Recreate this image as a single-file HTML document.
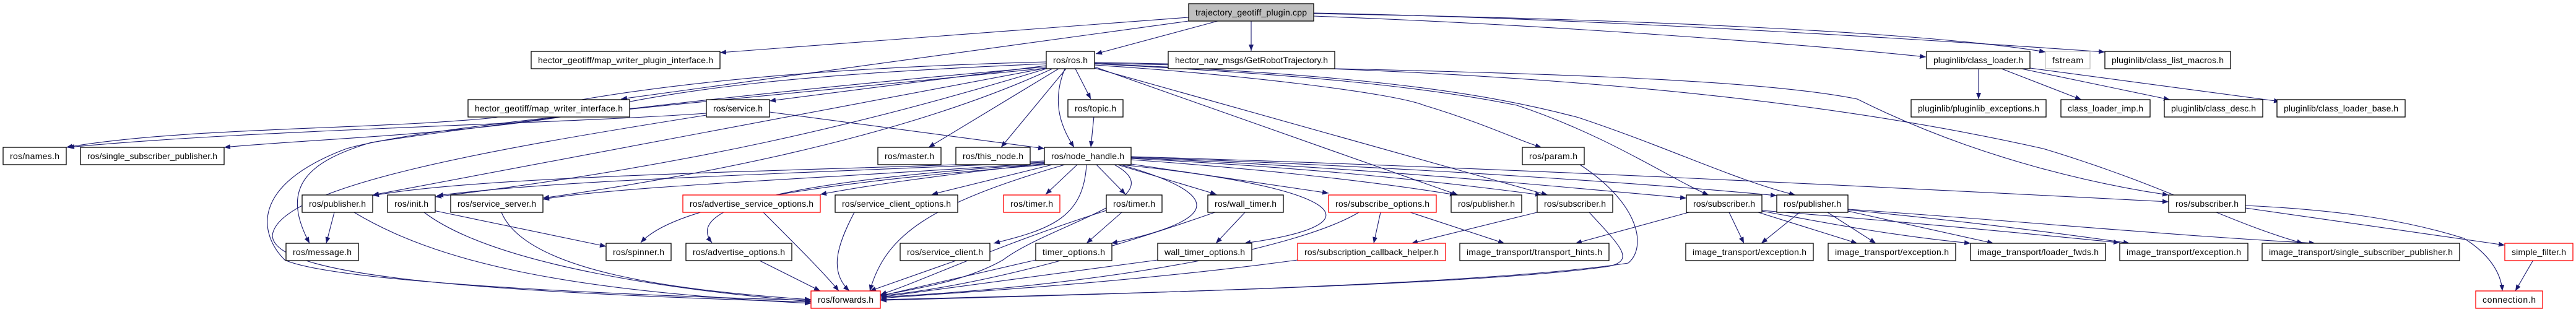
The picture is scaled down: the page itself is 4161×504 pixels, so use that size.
<!DOCTYPE html>
<html><head><meta charset="utf-8"><style>
html,body{margin:0;padding:0;background:#fff;}
svg{display:block;}
text{font-family:"Liberation Sans",sans-serif;font-size:14px;fill:#000;}
.b{fill:#fff;stroke:#000;stroke-width:1.3;}
.r{fill:#fff;stroke:#ff0000;stroke-width:1.3;}
.e{fill:none;stroke:#191970;stroke-width:1.1;marker-end:url(#a);}
</style></head><body>
<svg width="4161" height="504" viewBox="0 0 4161 504" xmlns="http://www.w3.org/2000/svg">
<defs><marker id="a" markerWidth="10" markerHeight="8" refX="10" refY="4" orient="auto" markerUnits="userSpaceOnUse"><polygon points="0,0 10,4 0,8" fill="#191970"/></marker></defs>
<g>
<path class="e" d="M1920,28 L1163,85"/>
<path class="e" d="M1920,34 L1003,160"/>
<path class="e" d="M1967,34 L1770,87"/>
<path class="e" d="M2021,34 L2021,82"/>
<path class="e" d="M2122,26 C2500,40 2900,70 3111,92"/>
<path class="e" d="M2122,22 C2600,30 3100,50 3304,84"/>
<path class="e" d="M2122,21 C2600,30 3200,70 3400,84"/>
<path class="e" d="M1690,100 C1300,110 1000,140 800,190 C600,210 300,205 107,238"/>
<path class="e" d="M1690,103 C1300,120 1100,140 900,190 C700,220 500,225 362,238"/>
<path class="e" d="M1690,106 L1243,163"/>
<path class="e" d="M1690,108 C1200,150 800,200 600,230 C500,260 450,300 500,393"/>
<path class="e" d="M1690,110 C1200,160 700,200 560,240 C400,300 420,380 460,420 C550,460 1100,480 1310,485"/>
<path class="e" d="M1690,110 L602,315"/>
<path class="e" d="M1690,111 C1400,200 1100,270 703,318"/>
<path class="e" d="M1700,111 C1550,180 1300,260 877,320"/>
<path class="e" d="M1710,111 L1500,238"/>
<path class="e" d="M1722,111 L1617,238"/>
<path class="e" d="M1720,111 C1700,160 1710,200 1735,238"/>
<path class="e" d="M1737,111 L1762,160"/>
<path class="e" d="M1768,105 C2000,120 2250,150 2300,170 C2400,200 2460,230 2490,238"/>
<path class="e" d="M1768,108 L2355,315"/>
<path class="e" d="M1768,110 L2500,315"/>
<path class="e" d="M1768,103 C2100,120 2300,140 2450,170 C2600,220 2700,290 2760,315"/>
<path class="e" d="M1768,103 C2200,120 2400,150 2550,190 C2700,240 2800,290 2900,315"/>
<path class="e" d="M1768,102 C2300,115 2800,120 3000,160 C3200,260 3400,300 3503,315"/>
<path class="e" d="M1768,101 C2400,110 2900,150 3300,240 C3500,300 3600,360 3720,393"/>
<path class="e" d="M1767,188 L1762,238"/>
<path class="e" d="M1243,181 L1687,240"/>
<path class="e" d="M1141,183 C900,200 400,210 110,238"/>
<path class="e" d="M1141,186 C800,240 450,300 440,380 C440,440 700,470 1310,488"/>
<path class="e" d="M1687,260 C1400,275 800,280 602,316"/>
<path class="e" d="M1687,262 C1300,280 900,290 706,316"/>
<path class="e" d="M1687,263 C1400,285 1000,300 877,322"/>
<path class="e" d="M1690,264 C1500,285 1400,300 1325,314"/>
<path class="e" d="M1700,266 L1505,314"/>
<path class="e" d="M1740,266 L1689,314"/>
<path class="e" d="M1771,266 L1818,314"/>
<path class="e" d="M1805,266 L1965,314"/>
<path class="e" d="M1827,265 L2146,312"/>
<path class="e" d="M1827,258 C2000,270 2200,290 2352,315"/>
<path class="e" d="M1827,256 C2100,270 2300,290 2490,315"/>
<path class="e" d="M1827,255 C2200,270 2500,300 2724,320"/>
<path class="e" d="M1827,254 C2300,270 2700,300 2870,316"/>
<path class="e" d="M1827,253 C2400,270 3000,300 3503,326"/>
<path class="e" d="M1690,266 C1400,290 1100,320 1035,392"/>
<path class="e" d="M1687,265 C1300,290 1100,330 1150,392"/>
<path class="e" d="M1755,266 C1750,350 1700,370 1605,393"/>
<path class="e" d="M1810,266 C2000,320 1950,360 1795,393"/>
<path class="e" d="M1810,266 C2150,300 2250,360 2010,393"/>
<path class="e" d="M1720,266 C1500,330 1430,380 1405,470"/>
<path class="e" d="M1800,266 C1900,320 1700,360 1620,420 C1550,460 1450,470 1422,478"/>
<path class="e" d="M540,343 L527,393"/>
<path class="e" d="M572,343 C700,420 900,470 1310,490"/>
<path class="e" d="M685,343 C800,430 1100,470 1310,487"/>
<path class="e" d="M700,340 L979,398"/>
<path class="e" d="M810,343 C850,440 1100,470 1310,484"/>
<path class="e" d="M1233,343 C1290,400 1330,440 1355,470"/>
<path class="e" d="M1380,343 C1350,400 1340,440 1372,470"/>
<path class="e" d="M1225,420 L1325,470"/>
<path class="e" d="M1547,420 L1405,470"/>
<path class="e" d="M1812,343 L1755,393"/>
<path class="e" d="M1787,340 C1600,400 1500,450 1422,476"/>
<path class="e" d="M2011,343 L1964,393"/>
<path class="e" d="M1971,340 C1800,400 1600,460 1422,478"/>
<path class="e" d="M1673,420 L1422,478"/>
<path class="e" d="M1870,420 L1422,480"/>
<path class="e" d="M2096,420 C1800,460 1500,475 1422,482"/>
<path class="e" d="M2230,343 L2219,393"/>
<path class="e" d="M2195,343 C2100,400 1800,460 1422,480"/>
<path class="e" d="M2278,343 L2430,393"/>
<path class="e" d="M2483,343 L2280,393"/>
<path class="e" d="M2567,343 C2620,400 2640,420 2600,430 C2400,460 1800,475 1422,484"/>
<path class="e" d="M2552,266 C2650,330 2660,400 2630,425 C2400,460 1800,475 1422,485"/>
<path class="e" d="M2728,343 L2545,393"/>
<path class="e" d="M2793,343 L2817,393"/>
<path class="e" d="M2840,343 L3000,393"/>
<path class="e" d="M2846,341 C2950,360 3050,380 3183,393"/>
<path class="e" d="M2846,340 C3100,360 3300,380 3424,392"/>
<path class="e" d="M2907,343 L2845,393"/>
<path class="e" d="M2952,343 L3030,393"/>
<path class="e" d="M2985,341 L3220,393"/>
<path class="e" d="M2985,339 C3200,360 3350,380 3440,393"/>
<path class="e" d="M2985,338 C3300,360 3500,380 3740,393"/>
<path class="e" d="M3196,111 L3196,160"/>
<path class="e" d="M3233,111 L3362,161"/>
<path class="e" d="M3265,111 L3505,161"/>
<path class="e" d="M3279,110 L3683,164"/>
<path class="e" d="M3627,332 C3800,340 3900,360 3980,385 C4020,410 4040,440 4042,470"/>
<path class="e" d="M3627,336 L4046,396"/>
<path class="e" d="M4092,420 L4063,470"/>
</g>
<g>
<rect x="1920" y="6" width="202" height="28" fill="#bfbfbf" stroke="#000" stroke-width="1.3"/>
<text x="1931" y="25" textLength="180">trajectory_geotiff_plugin.cpp</text>

<rect class="b" x="858" y="83" width="305" height="28"/><text x="869" y="102" textLength="283">hector_geotiff/map_writer_plugin_interface.h</text>
<rect class="b" x="1690" y="83" width="78" height="28"/><text x="1701" y="102" textLength="56">ros/ros.h</text>
<rect class="b" x="1887" y="83" width="269" height="28"/><text x="1898" y="102" textLength="247">hector_nav_msgs/GetRobotTrajectory.h</text>
<rect class="b" x="3112" y="83" width="167" height="28"/><text x="3123" y="102" textLength="145">pluginlib/class_loader.h</text>
<rect x="3304" y="83" width="72" height="28" fill="#fff" stroke="#bfbfbf" stroke-width="1.3"/><text x="3315" y="102" textLength="50">fstream</text>
<rect class="b" x="3400" y="83" width="203" height="28"/><text x="3411" y="102" textLength="181">pluginlib/class_list_macros.h</text>

<rect class="b" x="756" y="161" width="261" height="28"/><text x="767" y="180" textLength="239">hector_geotiff/map_writer_interface.h</text>
<rect class="b" x="1141" y="161" width="102" height="28"/><text x="1152" y="180" textLength="80">ros/service.h</text>
<rect class="b" x="1725" y="161" width="89" height="28"/><text x="1736" y="180" textLength="67">ros/topic.h</text>
<rect class="b" x="3087" y="161" width="218" height="28"/><text x="3098" y="180" textLength="196">pluginlib/pluginlib_exceptions.h</text>
<rect class="b" x="3329" y="161" width="144" height="28"/><text x="3340" y="180" textLength="122">class_loader_imp.h</text>
<rect class="b" x="3496" y="161" width="159" height="28"/><text x="3507" y="180" textLength="137">pluginlib/class_desc.h</text>
<rect class="b" x="3678" y="161" width="207" height="28"/><text x="3689" y="180" textLength="185">pluginlib/class_loader_base.h</text>

<rect class="b" x="5" y="238" width="102" height="28"/><text x="16" y="257" textLength="80">ros/names.h</text>
<rect class="b" x="130" y="238" width="232" height="28"/><text x="141" y="257" textLength="210">ros/single_subscriber_publisher.h</text>
<rect class="b" x="1418" y="238" width="102" height="28"/><text x="1429" y="257" textLength="80">ros/master.h</text>
<rect class="b" x="1544" y="238" width="120" height="28"/><text x="1555" y="257" textLength="98">ros/this_node.h</text>
<rect class="b" x="1687" y="238" width="140" height="28"/><text x="1698" y="257" textLength="118">ros/node_handle.h</text>
<rect class="b" x="2459" y="238" width="100" height="28"/><text x="2470" y="257" textLength="78">ros/param.h</text>

<rect class="b" x="488" y="315" width="114" height="28"/><text x="499" y="334" textLength="92">ros/publisher.h</text>
<rect class="b" x="626" y="315" width="77" height="28"/><text x="637" y="334" textLength="55">ros/init.h</text>
<rect class="b" x="728" y="315" width="149" height="28"/><text x="739" y="334" textLength="127">ros/service_server.h</text>
<rect class="r" x="1103" y="315" width="222" height="28"/><text x="1114" y="334" textLength="200">ros/advertise_service_options.h</text>
<rect class="b" x="1349" y="315" width="198" height="28"/><text x="1360" y="334" textLength="176">ros/service_client_options.h</text>
<rect class="r" x="1621" y="315" width="91" height="28"/><text x="1632" y="334" textLength="69">ros/timer.h</text>
<rect class="b" x="1787" y="315" width="90" height="28"/><text x="1798" y="334" textLength="68">ros/timer.h</text>
<rect class="b" x="1951" y="315" width="122" height="28"/><text x="1962" y="334" textLength="100">ros/wall_timer.h</text>
<rect class="r" x="2146" y="315" width="174" height="28"/><text x="2157" y="334" textLength="152">ros/subscribe_options.h</text>
<rect class="b" x="2344" y="315" width="114" height="28"/><text x="2355" y="334" textLength="92">ros/publisher.h</text>
<rect class="b" x="2483" y="315" width="122" height="28"/><text x="2494" y="334" textLength="100">ros/subscriber.h</text>
<rect class="b" x="2724" y="315" width="122" height="28"/><text x="2735" y="334" textLength="100">ros/subscriber.h</text>
<rect class="b" x="2870" y="315" width="115" height="28"/><text x="2881" y="334" textLength="93">ros/publisher.h</text>
<rect class="b" x="3503" y="315" width="124" height="28"/><text x="3514" y="334" textLength="102">ros/subscriber.h</text>

<rect class="b" x="462" y="393" width="117" height="28"/><text x="473" y="412" textLength="95">ros/message.h</text>
<rect class="b" x="979" y="393" width="105" height="28"/><text x="990" y="412" textLength="83">ros/spinner.h</text>
<rect class="b" x="1108" y="393" width="171" height="28"/><text x="1119" y="412" textLength="149">ros/advertise_options.h</text>
<rect class="b" x="1454" y="393" width="145" height="28"/><text x="1465" y="412" textLength="123">ros/service_client.h</text>
<rect class="b" x="1673" y="393" width="123" height="28"/><text x="1684" y="412" textLength="101">timer_options.h</text>
<rect class="b" x="1870" y="393" width="152" height="28"/><text x="1881" y="412" textLength="130">wall_timer_options.h</text>
<rect class="r" x="2096" y="393" width="239" height="28"/><text x="2107" y="412" textLength="217">ros/subscription_callback_helper.h</text>
<rect class="b" x="2358" y="393" width="241" height="28"/><text x="2369" y="412" textLength="219">image_transport/transport_hints.h</text>
<rect class="b" x="2723" y="393" width="206" height="28"/><text x="2734" y="412" textLength="184">image_transport/exception.h</text>
<rect class="b" x="2953" y="393" width="206" height="28"/><text x="2964" y="412" textLength="184">image_transport/exception.h</text>
<rect class="b" x="3183" y="393" width="218" height="28"/><text x="3194" y="412" textLength="196">image_transport/loader_fwds.h</text>
<rect class="b" x="3424" y="393" width="207" height="28"/><text x="3435" y="412" textLength="185">image_transport/exception.h</text>
<rect class="b" x="3654" y="393" width="319" height="28"/><text x="3665" y="412" textLength="297">image_transport/single_subscriber_publisher.h</text>
<rect class="r" x="4046" y="393" width="110" height="28"/><text x="4057" y="412" textLength="88">simple_filter.h</text>

<rect class="r" x="1310" y="470" width="112" height="28"/><text x="1321" y="489" textLength="90">ros/forwards.h</text>
<rect class="r" x="3999" y="470" width="108" height="28"/><text x="4010" y="489" textLength="86">connection.h</text>
</g>
</svg>
</body></html>
